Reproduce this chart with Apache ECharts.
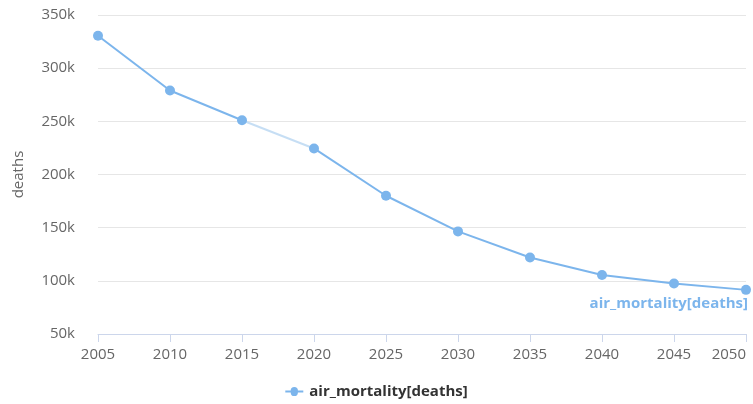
<!DOCTYPE html>
<html>
<head>
<meta charset="utf-8">
<script src="https://cdn.jsdelivr.net/npm/echarts@6/dist/echarts.min.js"></script>
<style>html,body{margin:0;padding:0;background:#fff}#c{width:753px;height:404px}</style>
</head>
<body>
<div id="c"></div>
<script>
const years = ['2005','2010','2015','2020','2025','2030','2035','2040','2045','2050'];
const deaths = [330500, 279000, 251000, 224500, 180000, 146500, 122000, 105500, 97500, 91500];
const seriesName = 'air_mortality[deaths]';

const chart = echarts.init(document.getElementById('c'));
chart.setOption({
  animation: false,
  textStyle: { fontFamily: 'Open Sans, Lato, sans-serif' },
  grid: { left: 98, right: 7, top: 15, bottom: 70, outerBoundsMode: 'none', containLabel: false },
  legend: {
    bottom: 0, left: 'center',
    icon: 'path://M0,4.5 L6,4.5 A4,4 0 1 1 14,4.5 L20,4.5 L20,6.5 L14,6.5 A4,4 0 1 1 6,6.5 L0,6.5 Z',
    itemWidth: 20, itemHeight: 9,
    textStyle: { fontWeight: 'bold', color: '#333', fontSize: 15 },
    data: [seriesName]
  },
  visualMap: {
    show: false, type: 'piecewise', dimension: 0, seriesIndex: 0,
    pieces: [
      { lte: 2, color: '#7cb5ec' },
      { gt: 2, lt: 3, color: '#c6def4' },
      { gte: 3, color: '#7cb5ec' }
    ]
  },
  xAxis: {
    type: 'category', data: years, boundaryGap: false,
    axisLine: { lineStyle: { color: '#ccd6eb' } },
    axisTick: { show: true, length: 8, lineStyle: { color: '#ccd6eb' }, alignWithLabel: true },
    axisLabel: { color: '#666', fontSize: 15, margin: 13, alignMaxLabel: 'right' }
  },
  yAxis: {
    type: 'value', min: 50000, max: 350000, interval: 50000,
    name: 'deaths', nameLocation: 'middle', nameGap: 72, nameRotate: 90,
    nameTextStyle: { color: '#666', fontSize: 15 },
    axisLine: { show: false }, axisTick: { show: false },
    splitLine: { lineStyle: { color: '#e6e6e6' } },
    axisLabel: { color: '#666', fontSize: 15, margin: 23, formatter: v => (v / 1000) + 'k' }
  },
  series: [{
    name: seriesName, type: 'line', data: deaths,
    symbol: 'circle', symbolSize: 10,
    itemStyle: { color: '#7cb5ec' },
    lineStyle: { width: 2 },
    endLabel: {
      show: true, formatter: seriesName, color: '#7cb5ec', fontWeight: 'bold', fontSize: 15,
      align: 'right', offset: [-6, 14]
    }
  }]
});
</script>
</body>
</html>
